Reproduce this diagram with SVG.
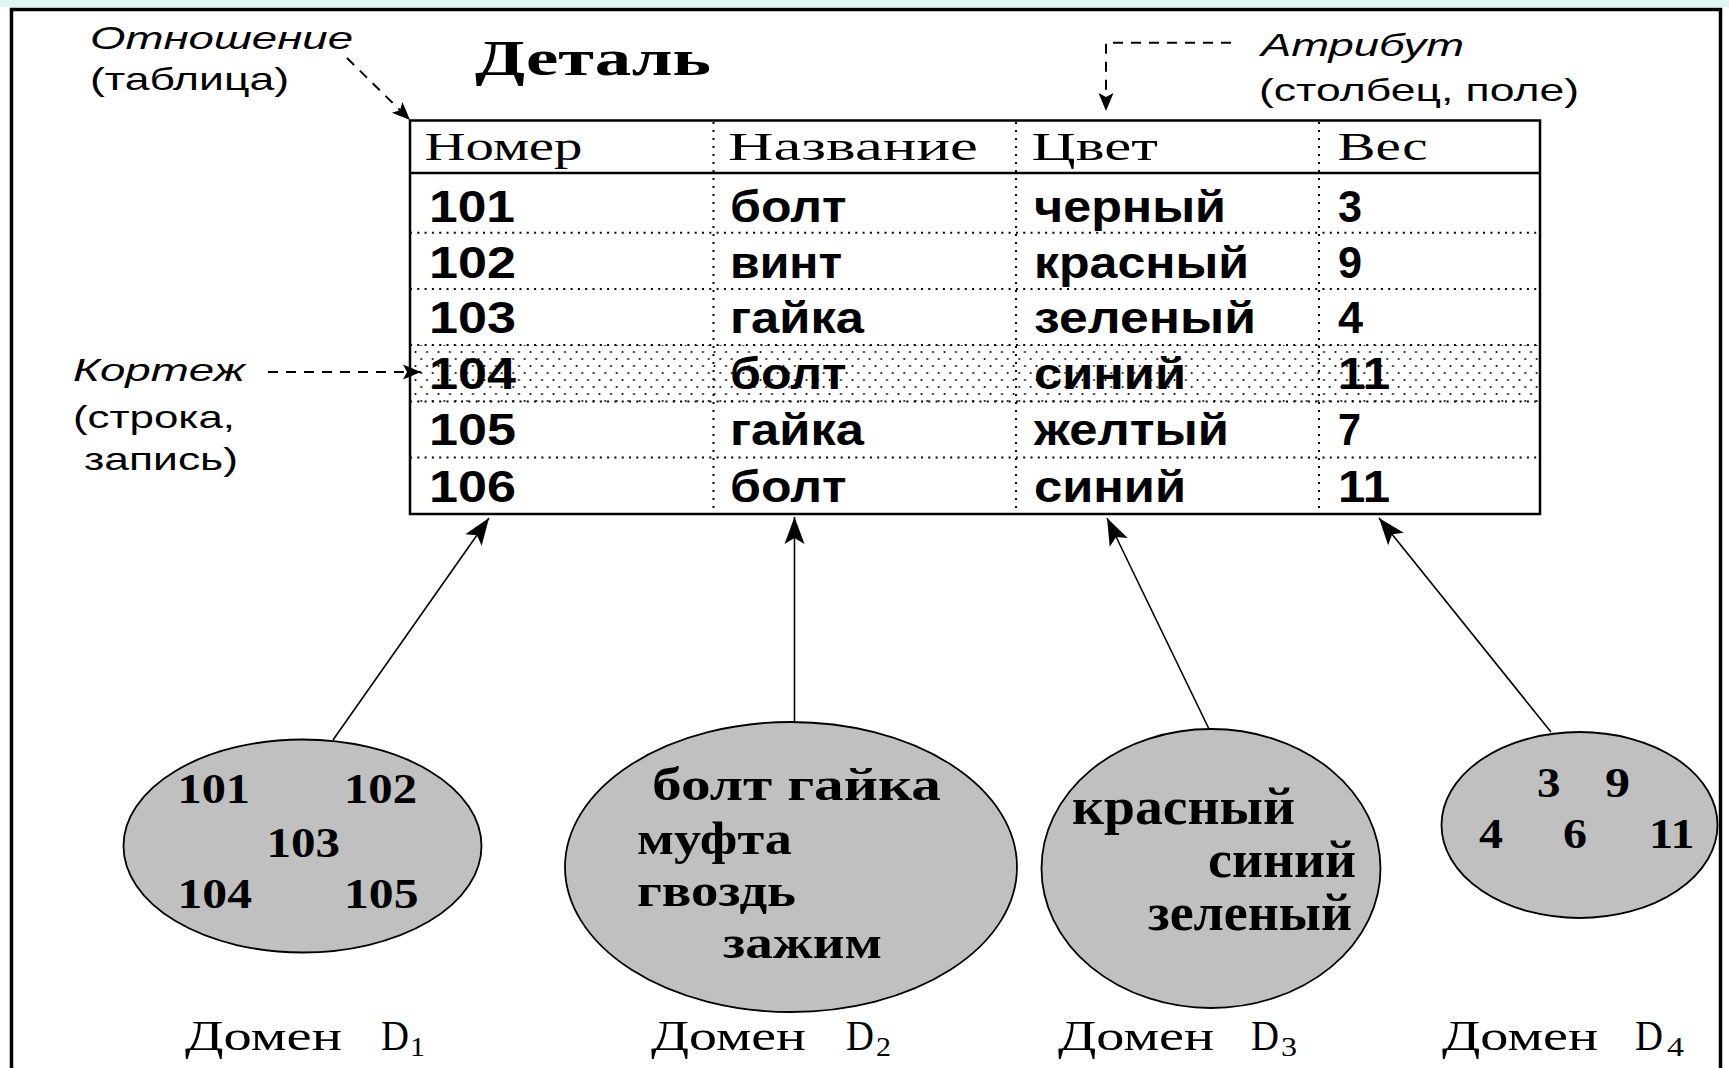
<svg xmlns="http://www.w3.org/2000/svg" width="1729" height="1068" viewBox="0 0 1729 1068">
<defs>
<style>
.ann{font-family:"Liberation Sans",Arial,sans-serif;font-size:32px;fill:#000}
.it{font-style:italic}
.hdr{font-family:"Liberation Serif","Times New Roman",serif;font-size:40px;fill:#000}
.ttl{font-family:"Liberation Serif","Times New Roman",serif;font-size:51px;font-weight:bold;fill:#000}
.cell{font-family:"Liberation Sans",Arial,sans-serif;font-size:44px;font-weight:bold;fill:#000}
.el{font-family:"Liberation Serif","Times New Roman",serif;font-weight:bold;fill:#000}
.dom{font-family:"Liberation Serif","Times New Roman",serif;font-size:42px;fill:#000}
.sub{font-family:"Liberation Serif","Times New Roman",serif;font-size:27px;fill:#000}
.ell{fill:#c0c0c0;stroke:#000;stroke-width:1.8}
.dotH{stroke:#000;stroke-width:2;stroke-dasharray:2 5.3;fill:none}
.dotV{stroke:#000;stroke-width:2;stroke-dasharray:2 6;fill:none}
.solid{stroke:#000;stroke-width:2.5;fill:none}
.conn{stroke:#000;stroke-width:1.6;fill:none}
.dash{stroke:#000;stroke-width:2;stroke-dasharray:10 8;fill:none}
</style>
<pattern id="stip" width="11.5" height="14" patternUnits="userSpaceOnUse">
<circle cx="1.5" cy="2" r="1" fill="#000"/>
<circle cx="7.25" cy="9" r="1" fill="#000"/>
</pattern>
<marker id="big" viewBox="-28 -12 30 24" refX="0" refY="0" markerWidth="30" markerHeight="24" markerUnits="userSpaceOnUse" orient="auto">
<path d="M0,0 L-27,-10 L-21,0 L-27,10 Z" fill="#000"/>
</marker>
<marker id="small" viewBox="-20 -9 22 18" refX="0" refY="0" markerWidth="22" markerHeight="18" markerUnits="userSpaceOnUse" orient="auto">
<path d="M0,0 L-18,-7.5 L-14,0 L-18,7.5 Z" fill="#000"/>
</marker>
</defs>

<rect x="0" y="0" width="1729" height="1068" fill="#fff"/>
<rect x="0" y="0" width="1729" height="7" fill="#e2f5f5"/>
<path d="M11.5,1068 V9.5 H1720.5 V1068" fill="none" stroke="#000" stroke-width="3.5"/>

<g id="title">
<text class="ttl" x="475" y="75" textLength="236" lengthAdjust="spacingAndGlyphs">Деталь</text>
</g>

<g id="annotation-relation">
<text class="ann it" x="90" y="49" textLength="263" lengthAdjust="spacingAndGlyphs">Отношение</text>
<text class="ann" x="90" y="90" textLength="199" lengthAdjust="spacingAndGlyphs">(таблица)</text>
</g>
<g id="annotation-attribute">
<text class="ann it" x="1261" y="56" textLength="203" lengthAdjust="spacingAndGlyphs">Атрибут</text>
<text class="ann" x="1259" y="101" textLength="320" lengthAdjust="spacingAndGlyphs">(столбец, поле)</text>
</g>
<g id="annotation-tuple">
<text class="ann it" x="73" y="381" textLength="172" lengthAdjust="spacingAndGlyphs">Кортеж</text>
<text class="ann" x="73" y="428" textLength="162" lengthAdjust="spacingAndGlyphs">(строка,</text>
<text class="ann" x="84" y="470" textLength="154" lengthAdjust="spacingAndGlyphs">запись)</text>
</g>

<g id="table">
<rect x="410" y="345" width="1130" height="57" fill="url(#stip)"/>
<rect x="410" y="120.5" width="1130" height="393.5" class="solid"/>
<line x1="410" y1="173" x2="1540" y2="173" class="solid"/>
<line x1="410" y1="232.7" x2="1540" y2="232.7" class="dotH"/>
<line x1="410" y1="289" x2="1540" y2="289" class="dotH"/>
<line x1="410" y1="345" x2="1540" y2="345" class="dotH"/>
<line x1="410" y1="401.5" x2="1540" y2="401.5" class="dotH"/>
<line x1="410" y1="457.6" x2="1540" y2="457.6" class="dotH"/>
<line x1="713.5" y1="122" x2="713.5" y2="513" class="dotV"/>
<line x1="1016" y1="122" x2="1016" y2="513" class="dotV"/>
<line x1="1319" y1="122" x2="1319" y2="513" class="dotV"/>

<text class="hdr" x="424.5" y="160" textLength="158" lengthAdjust="spacingAndGlyphs">Номер</text>
<text class="hdr" x="728" y="160" textLength="250" lengthAdjust="spacingAndGlyphs">Название</text>
<text class="hdr" x="1031.5" y="160" textLength="126.5" lengthAdjust="spacingAndGlyphs">Цвет</text>
<text class="hdr" x="1337.5" y="160" textLength="90" lengthAdjust="spacingAndGlyphs">Вес</text>

<text class="cell" x="429" y="222" textLength="86" lengthAdjust="spacingAndGlyphs">101</text>
<text class="cell" x="730" y="222" textLength="116.5" lengthAdjust="spacingAndGlyphs">болт</text>
<text class="cell" x="1034" y="222" textLength="192" lengthAdjust="spacingAndGlyphs">черный</text>
<text class="cell" x="1338" y="222" textLength="24" lengthAdjust="spacingAndGlyphs">3</text>

<text class="cell" x="429" y="277.5" textLength="87" lengthAdjust="spacingAndGlyphs">102</text>
<text class="cell" x="730" y="277.5" textLength="112" lengthAdjust="spacingAndGlyphs">винт</text>
<text class="cell" x="1034" y="277.5" textLength="215" lengthAdjust="spacingAndGlyphs">красный</text>
<text class="cell" x="1338" y="277.5" textLength="24" lengthAdjust="spacingAndGlyphs">9</text>

<text class="cell" x="429" y="333" textLength="87" lengthAdjust="spacingAndGlyphs">103</text>
<text class="cell" x="730" y="333" textLength="134" lengthAdjust="spacingAndGlyphs">гайка</text>
<text class="cell" x="1034" y="333" textLength="222" lengthAdjust="spacingAndGlyphs">зеленый</text>
<text class="cell" x="1338" y="333" textLength="25" lengthAdjust="spacingAndGlyphs">4</text>

<text class="cell" x="429" y="389" textLength="87" lengthAdjust="spacingAndGlyphs">104</text>
<text class="cell" x="730" y="389" textLength="116.5" lengthAdjust="spacingAndGlyphs">болт</text>
<text class="cell" x="1034" y="389" textLength="152" lengthAdjust="spacingAndGlyphs">синий</text>
<text class="cell" x="1338" y="389" textLength="52" lengthAdjust="spacingAndGlyphs">11</text>

<text class="cell" x="429" y="445" textLength="87" lengthAdjust="spacingAndGlyphs">105</text>
<text class="cell" x="730" y="445" textLength="134" lengthAdjust="spacingAndGlyphs">гайка</text>
<text class="cell" x="1034" y="445" textLength="195" lengthAdjust="spacingAndGlyphs">желтый</text>
<text class="cell" x="1338" y="445" textLength="23" lengthAdjust="spacingAndGlyphs">7</text>

<text class="cell" x="429" y="501.5" textLength="87" lengthAdjust="spacingAndGlyphs">106</text>
<text class="cell" x="730" y="501.5" textLength="116.5" lengthAdjust="spacingAndGlyphs">болт</text>
<text class="cell" x="1034" y="501.5" textLength="152" lengthAdjust="spacingAndGlyphs">синий</text>
<text class="cell" x="1338" y="501.5" textLength="52" lengthAdjust="spacingAndGlyphs">11</text>
</g>

<g id="domain-d1">
<ellipse class="ell" cx="302.5" cy="846" rx="179" ry="106.5"/>
<text class="el" font-size="42" x="177.5" y="803" textLength="72.5" lengthAdjust="spacingAndGlyphs">101</text>
<text class="el" font-size="42" x="344" y="803" textLength="73" lengthAdjust="spacingAndGlyphs">102</text>
<text class="el" font-size="42" x="266.5" y="857" textLength="73.5" lengthAdjust="spacingAndGlyphs">103</text>
<text class="el" font-size="42" x="177.5" y="908" textLength="74.5" lengthAdjust="spacingAndGlyphs">104</text>
<text class="el" font-size="42" x="344" y="908" textLength="74.5" lengthAdjust="spacingAndGlyphs">105</text>
<text class="dom" x="185" y="1050" textLength="157" lengthAdjust="spacingAndGlyphs">Домен</text>
<text class="dom" x="381" y="1050" textLength="28" lengthAdjust="spacingAndGlyphs">D</text>
<text class="sub" x="410" y="1056" textLength="15" lengthAdjust="spacingAndGlyphs">1</text>
</g>

<g id="domain-d2">
<ellipse class="ell" cx="791" cy="867" rx="226" ry="145"/>
<text class="el" font-size="46" x="652" y="800" textLength="289" lengthAdjust="spacingAndGlyphs">болт гайка</text>
<text class="el" font-size="46" x="637" y="854" textLength="155" lengthAdjust="spacingAndGlyphs">муфта</text>
<text class="el" font-size="46" x="637" y="906" textLength="159" lengthAdjust="spacingAndGlyphs">гвоздь</text>
<text class="el" font-size="46" x="723" y="958" textLength="159" lengthAdjust="spacingAndGlyphs">зажим</text>
<text class="dom" x="651" y="1050" textLength="155" lengthAdjust="spacingAndGlyphs">Домен</text>
<text class="dom" x="846" y="1050" textLength="28" lengthAdjust="spacingAndGlyphs">D</text>
<text class="sub" x="876" y="1056" textLength="15" lengthAdjust="spacingAndGlyphs">2</text>
</g>

<g id="domain-d3">
<ellipse class="ell" cx="1211" cy="868.5" rx="169.5" ry="139.5"/>
<text class="el" font-size="52" x="1072" y="824" textLength="223" lengthAdjust="spacingAndGlyphs">красный</text>
<text class="el" font-size="52" x="1208" y="877" textLength="148" lengthAdjust="spacingAndGlyphs">синий</text>
<text class="el" font-size="52" x="1148" y="930" textLength="204" lengthAdjust="spacingAndGlyphs">зеленый</text>
<text class="dom" x="1058" y="1050" textLength="156" lengthAdjust="spacingAndGlyphs">Домен</text>
<text class="dom" x="1251" y="1050" textLength="28" lengthAdjust="spacingAndGlyphs">D</text>
<text class="sub" x="1281" y="1056" textLength="16" lengthAdjust="spacingAndGlyphs">3</text>
</g>

<g id="domain-d4">
<ellipse class="ell" cx="1579.5" cy="825" rx="138" ry="93"/>
<text class="el" font-size="42" x="1537" y="797" textLength="23.5" lengthAdjust="spacingAndGlyphs">3</text>
<text class="el" font-size="42" x="1605" y="797" textLength="25" lengthAdjust="spacingAndGlyphs">9</text>
<text class="el" font-size="42" x="1479" y="848" textLength="24" lengthAdjust="spacingAndGlyphs">4</text>
<text class="el" font-size="42" x="1563" y="848" textLength="24" lengthAdjust="spacingAndGlyphs">6</text>
<text class="el" font-size="42" x="1649" y="848" textLength="45.5" lengthAdjust="spacingAndGlyphs">11</text>
<text class="dom" x="1442" y="1050" textLength="156" lengthAdjust="spacingAndGlyphs">Домен</text>
<text class="dom" x="1635" y="1050" textLength="28" lengthAdjust="spacingAndGlyphs">D</text>
<text class="sub" x="1667" y="1056" textLength="17" lengthAdjust="spacingAndGlyphs">4</text>
</g>

<g id="connectors">
<line class="dash" x1="347" y1="58" x2="410" y2="120" marker-end="url(#small)"/>
<path class="dash" d="M1231,42.7 H1106 V111" marker-end="url(#small)"/>
<line class="dash" x1="268" y1="372" x2="421" y2="372" marker-end="url(#small)"/>
<line class="conn" x1="333" y1="740" x2="489" y2="518" marker-end="url(#big)"/>
<line class="conn" x1="794.5" y1="722" x2="794.5" y2="517" marker-end="url(#big)"/>
<line class="conn" x1="1209" y1="729" x2="1107" y2="518" marker-end="url(#big)"/>
<line class="conn" x1="1551" y1="732" x2="1379" y2="518" marker-end="url(#big)"/>
</g>
</svg>
